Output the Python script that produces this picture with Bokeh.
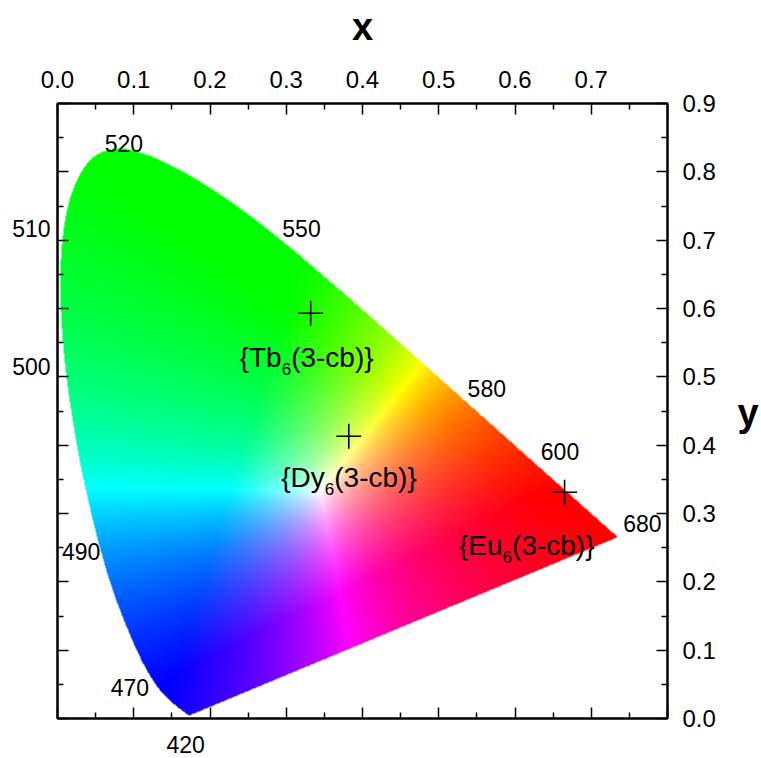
import numpy as np
from bokeh.plotting import figure
from bokeh.models import LinearAxis, FixedTicker, Label, LabelSet, ColumnDataSource, PrintfTickFormatter
from bokeh.core.properties import value
from bokeh.embed import file_html
from bokeh.resources import INLINE

# ---------------- data ----------------
# CIE 1931 2-degree spectral locus (chromaticity x, y), 380-700 nm
locus_nm = [380, 400, 410, 415, 420, 425, 430, 435, 440, 445, 450, 455, 460, 465, 470,
            475, 480, 485, 490, 495, 500, 505, 510, 515, 520, 525, 530, 535, 540, 545,
            550, 555, 560, 565, 570, 575, 580, 585, 590, 595, 600, 605, 610, 615, 620,
            625, 630, 640, 650, 660, 680, 700]
locus_x = [0.1741, 0.1733, 0.1726, 0.1721, 0.1714, 0.1703, 0.1689, 0.1669, 0.1644, 0.1611,
           0.1566, 0.1510, 0.1440, 0.1355, 0.1241, 0.1096, 0.0913, 0.0687, 0.0454, 0.0235,
           0.0082, 0.0039, 0.0139, 0.0389, 0.0743, 0.1142, 0.1547, 0.1929, 0.2296, 0.2658,
           0.3016, 0.3373, 0.3731, 0.4087, 0.4441, 0.4788, 0.5125, 0.5448, 0.5752, 0.6029,
           0.6270, 0.6482, 0.6658, 0.6801, 0.6915, 0.7006, 0.7079, 0.7190, 0.7260, 0.7300,
           0.7334, 0.7347]
locus_y = [0.0050, 0.0048, 0.0048, 0.0048, 0.0051, 0.0058, 0.0069, 0.0086, 0.0109, 0.0138,
           0.0177, 0.0227, 0.0297, 0.0399, 0.0578, 0.0868, 0.1327, 0.2007, 0.2950, 0.4127,
           0.5384, 0.6548, 0.7502, 0.8120, 0.8338, 0.8262, 0.8059, 0.7816, 0.7543, 0.7243,
           0.6923, 0.6589, 0.6245, 0.5896, 0.5547, 0.5202, 0.4866, 0.4544, 0.4242, 0.3965,
           0.3725, 0.3514, 0.3340, 0.3197, 0.3083, 0.2993, 0.2920, 0.2809, 0.2740, 0.2700,
           0.2666, 0.2653]

# wavelength annotations (nm) inside the frame, and where their texts sit
wl_labels = ["520", "550", "580", "600", "680", "490", "470"]
wl_label_x = [0.087, 0.320, 0.563, 0.659, 0.767, 0.031, 0.095]
wl_label_y = [0.842, 0.717, 0.483, 0.391, 0.285, 0.245, 0.045]
# wavelength annotations beside the frame (left side: at y; below: at x)
wl_left_labels = ["510", "500"]
wl_left_y = [0.717, 0.515]
wl_below_labels = ["420"]
wl_below_x = [0.168]

# measured CIE coordinates of the complexes
sample_ions = ["Tb", "Dy", "Eu"]
sample_x = [0.332, 0.382, 0.665]
sample_y = [0.593, 0.413, 0.331]

x_ticks = [0.0, 0.1, 0.2, 0.3, 0.4, 0.5, 0.6, 0.7, 0.8]
y_ticks = [0.0, 0.1, 0.2, 0.3, 0.4, 0.5, 0.6, 0.7, 0.8, 0.9]
x_minor = [0.05, 0.15, 0.25, 0.35, 0.45, 0.55, 0.65, 0.75]
y_minor = [0.05, 0.15, 0.25, 0.35, 0.45, 0.55, 0.65, 0.75, 0.85]

X0, X1 = 0.0, 0.8
Y0, Y1 = 0.0, 0.9

# ---------------- colour field of the gamut ----------------
def smooth_curve(xs, ys, n=8):
    """Catmull-Rom curve through the locus points (drawing only)."""
    P = np.column_stack([xs, ys])
    out = []
    m = len(P)
    for i in range(m - 1):
        p0 = P[max(i - 1, 0)]
        p1 = P[i]
        p2 = P[i + 1]
        p3 = P[min(i + 2, m - 1)]
        for t in np.linspace(0, 1, n, endpoint=False):
            t2, t3 = t * t, t * t * t
            pt = 0.5 * ((2 * p1) + (-p0 + p2) * t + (2 * p0 - 5 * p1 + 4 * p2 - p3) * t2
                        + (-p0 + 3 * p1 - 3 * p2 + p3) * t3)
            out.append(pt)
    out.append(P[-1])
    out = np.array(out)
    return out[:, 0], out[:, 1]


nx, ny = 610, 615
gx = X0 + (np.arange(nx) + 0.5) / nx * (X1 - X0)
gy = Y0 + (np.arange(ny) + 0.5) / ny * (Y1 - Y0)
GX, GY = np.meshgrid(gx, gy)

px, py = smooth_curve(locus_x, locus_y)
inside = np.zeros(GX.shape, dtype=bool)
j = len(px) - 1
with np.errstate(divide="ignore", invalid="ignore"):
    for i in range(len(px)):
        xi, yi, xj, yj = px[i], py[i], px[j], py[j]
        crosses = (yi > GY) != (yj > GY)
        xint = (xj - xi) * (GY - yi) / (yj - yi) + xi
        inside ^= crosses & (GX < xint)
        j = i


def xyz_col(cx, cy):
    return np.array([cx / cy, 1.0, (1 - cx - cy) / cy])


prims = np.stack([xyz_col(0.64, 0.33), xyz_col(0.30, 0.60), xyz_col(0.15, 0.06)], axis=1)
white = xyz_col(0.345, 0.333)
S = np.linalg.solve(prims, white)
Minv = np.linalg.inv(prims * S[None, :])

Ysafe = np.maximum(GY, 1e-4)
XYZ = np.stack([GX / Ysafe, np.ones_like(GX), (1.0 - GX - GY) / Ysafe], axis=-1)
rgb = XYZ @ Minv.T
rgb = np.clip(rgb, 0, None)
mx = rgb.max(axis=-1, keepdims=True)
mx[mx == 0] = 1
rgb = rgb / mx
rgb8 = np.clip(np.round(rgb * 255), 0, 255).astype(np.uint8)

img = np.zeros((ny, nx), dtype=np.uint32)
view = img.view(dtype=np.uint8).reshape((ny, nx, 4))
view[..., 0] = rgb8[..., 0]
view[..., 1] = rgb8[..., 1]
view[..., 2] = rgb8[..., 2]
view[..., 3] = np.where(inside, 255, 0).astype(np.uint8)

# ---------------- figure ----------------
FONT = "Liberation Sans"

p = figure(width=761, height=758, x_range=(X0, X1), y_range=(Y0, Y1),
           x_axis_location=None, y_axis_location=None,
           output_backend="svg", toolbar_location=None,
           min_border_left=57, min_border_right=94, min_border_top=103, min_border_bottom=40)
p.grid.visible = False
p.background_fill_color = "white"
p.border_fill_color = "white"
p.outline_line_color = "black"
p.outline_line_width = 2

p.image_rgba(image=[img], x=X0, y=Y0, dw=X1 - X0, dh=Y1 - Y0)


def style_ticks(ax):
    ax.axis_line_width = 2
    ax.axis_line_color = "black"
    ax.major_tick_in = 11
    ax.major_tick_out = 0
    ax.minor_tick_in = 6
    ax.minor_tick_out = 0
    ax.major_tick_line_width = 1.5
    ax.minor_tick_line_width = 1.5
    ax.major_tick_line_color = "black"
    ax.minor_tick_line_color = "black"
    ax.major_label_text_font = FONT
    ax.major_label_text_font_size = "24px"
    ax.major_label_text_color = "black"
    ax.major_label_standoff = 14


def style_text_only(ax, size, standoff, bold=False):
    ax.axis_line_color = None
    ax.major_tick_line_color = None
    ax.minor_tick_line_color = None
    ax.major_tick_in = 0
    ax.major_tick_out = 0
    ax.minor_tick_in = 0
    ax.minor_tick_out = 0
    ax.major_label_text_font = FONT
    ax.major_label_text_font_size = size
    ax.major_label_text_color = "black"
    ax.major_label_standoff = standoff
    if bold:
        ax.major_label_text_font_style = "bold"


# top axis: ticks + labels + title
top_axis = LinearAxis(ticker=FixedTicker(ticks=x_ticks, minor_ticks=x_minor),
                      formatter=PrintfTickFormatter(format="%.1f"))
style_ticks(top_axis)
top_axis.major_label_standoff = 16
top_axis.major_label_overrides = {0.8: ""}
top_axis.axis_label = "x"
top_axis.axis_label_text_font = FONT
top_axis.axis_label_text_font_size = "38px"
top_axis.axis_label_text_font_style = "bold"
top_axis.axis_label_text_color = "black"
top_axis.axis_label_standoff = 20
p.add_layout(top_axis, "above")

# bottom axis: ticks only
bottom_axis = LinearAxis(ticker=FixedTicker(ticks=x_ticks, minor_ticks=x_minor))
style_ticks(bottom_axis)
bottom_axis.major_label_overrides = {t: "" for t in x_ticks}
bottom_axis.major_label_text_font_size = "0px"
bottom_axis.major_label_standoff = 0
p.add_layout(bottom_axis, "below")

# wavelength label below the frame
below_wl_axis = LinearAxis(ticker=FixedTicker(ticks=wl_below_x))
style_text_only(below_wl_axis, "23px", 17)
below_wl_axis.major_label_overrides = dict(zip(wl_below_x, wl_below_labels))
p.add_layout(below_wl_axis, "below")

# left axis: ticks only
left_axis = LinearAxis(ticker=FixedTicker(ticks=y_ticks, minor_ticks=y_minor))
style_ticks(left_axis)
left_axis.major_label_overrides = {t: "" for t in y_ticks}
left_axis.major_label_text_font_size = "0px"
left_axis.major_label_standoff = 0
p.add_layout(left_axis, "left")

# wavelength labels left of the frame
left_wl_axis = LinearAxis(ticker=FixedTicker(ticks=wl_left_y))
style_text_only(left_wl_axis, "23px", 7)
left_wl_axis.major_label_overrides = dict(zip(wl_left_y, wl_left_labels))
p.add_layout(left_wl_axis, "left")

# right axis: ticks + labels
right_axis = LinearAxis(ticker=FixedTicker(ticks=y_ticks, minor_ticks=y_minor),
                        formatter=PrintfTickFormatter(format="%.1f"))
style_ticks(right_axis)
right_axis.major_label_standoff = 15
p.add_layout(right_axis, "right")

# right title "y" (horizontal, beside the tick labels)
y_title_axis = LinearAxis(ticker=FixedTicker(ticks=[0.447]))
style_text_only(y_title_axis, "38px", 19, bold=True)
y_title_axis.major_label_overrides = {0.447: "y"}
p.add_layout(y_title_axis, "right")

# wavelength labels inside
wl_src = ColumnDataSource(dict(x=wl_label_x, y=wl_label_y, text=wl_labels))
p.add_layout(LabelSet(x="x", y="y", text="text", source=wl_src, text_font=value(FONT),
                      text_font_size="23px", text_color="black",
                      text_align="center", text_baseline="middle"))

# sample markers
p.scatter(sample_x, sample_y, marker="cross", size=25, line_color="black", line_width=1.6)

# sample labels "{Ln6(3-cb)}" with subscript 6
label_dx = [-29, -24, -62]
label_dy = [-44, -41, -53]
for ion, sx, sy, dx, dy in zip(sample_ions, sample_x, sample_y, label_dx, label_dy):
    p.add_layout(Label(x=sx, y=sy, x_offset=dx, y_offset=dy, text="{" + ion,
                       text_font=FONT, text_font_size="28px", text_align="right",
                       text_baseline="alphabetic", text_color="black"))
    p.add_layout(Label(x=sx, y=sy, x_offset=dx, y_offset=dy - 12, text="6",
                       text_font=FONT, text_font_size="17px", text_align="left",
                       text_baseline="alphabetic", text_color="black"))
    p.add_layout(Label(x=sx, y=sy, x_offset=dx + 9.5, y_offset=dy, text="(3-cb)}",
                       text_font=FONT, text_font_size="28px", text_align="left",
                       text_baseline="alphabetic", text_color="black"))

open("out.html", "w").write(file_html(p, INLINE))
